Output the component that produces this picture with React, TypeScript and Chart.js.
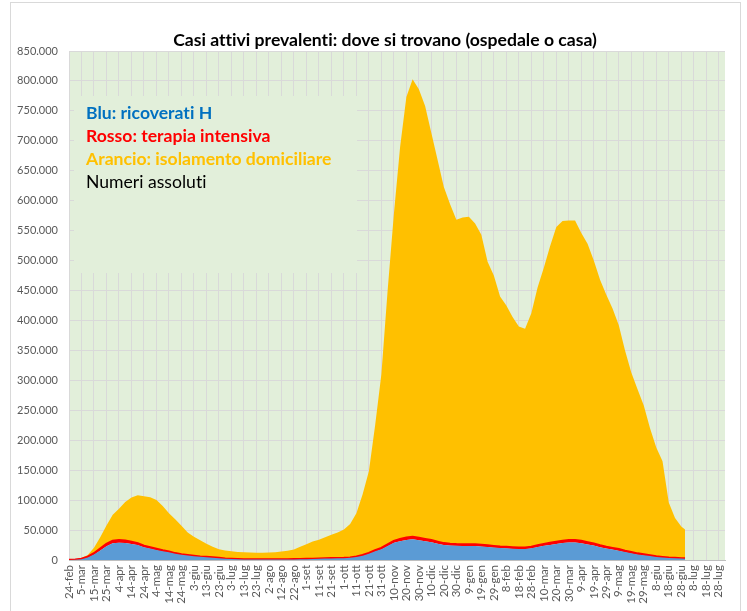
import React, { useEffect, useRef } from "react";
import { Chart, registerables } from "chart.js";

Chart.register(...registerables);

const TITLE = "Casi attivi prevalenti: dove si trovano (ospedale o casa)";

const tickLabels = [
  "24-feb", "5-mar", "15-mar", "25-mar", "4-apr", "14-apr", "24-apr", "4-mag", "14-mag", "24-mag",
  "3-giu", "13-giu", "23-giu", "3-lug", "13-lug", "23-lug", "2-ago", "12-ago", "22-ago", "1-set",
  "11-set", "21-set", "1-ott", "11-ott", "21-ott", "31-ott", "10-nov", "20-nov", "30-nov", "10-dic",
  "20-dic", "30-dic", "9-gen", "19-gen", "29-gen", "8-feb", "18-feb", "28-feb", "10-mar", "20-mar",
  "30-mar", "9-apr", "19-apr", "29-apr", "9-mag", "19-mag", "29-mag", "8-giu", "18-giu", "28-giu",
  "8-lug", "18-lug", "28-lug",
];

const legendLines = [
  { text: "Blu: ricoverati H", color: "#0070C0", bold: true },
  { text: "Rosso: terapia intensiva", color: "#FF0000", bold: true },
  { text: "Arancio: isolamento domiciliare", color: "#FFC000", bold: true },
  { text: "Numeri assoluti", color: "#000000", bold: false },
];

// samples every 5 days from 24-feb-2020; last sample is the final day of data
const SAMPLE_STEP = 5;
const LAST_DAY = 493;

const ricoverati = [
  100, 400, 1350, 4300, 9300, 16000, 23100, 27800, 29000, 28400,
  26900, 24900, 21500, 19200, 16800, 14600, 12900, 10400, 8600, 7400,
  6400, 5300, 4600, 3900, 3000, 2000, 1500, 1100, 850, 750,
  730, 730, 720, 780, 840, 900, 1030, 1200, 1380, 1700,
  2040, 2300, 2530, 2800, 3050, 3600, 5100, 7100, 10500, 14500,
  18000, 23300, 28600, 31500, 33600, 34600, 32900, 31200, 29600, 27300,
  25100, 24200, 23700, 23400, 23400, 23300, 22700, 21700, 20800, 20000,
  19600, 18900, 18300, 18500, 19600, 21800, 23700, 25200, 26900, 28300,
  29200, 29300, 28100, 26000, 24100, 21400, 19300, 17400, 15600, 13200,
  11300, 9300, 7900, 6500, 5100, 4100, 3300, 2800, 2300, 2200,
];

const terapiaIntensiva = [
  30, 100, 350, 880, 1670, 2660, 3490, 3980, 4070, 3600,
  3260, 2640, 2100, 1800, 1480, 1170, 860, 720, 550, 480,
  340, 280, 240, 180, 150, 110, 80, 70, 65, 50,
  45, 40, 42, 50, 56, 60, 70, 80, 94, 140,
  175, 200, 233, 260, 300, 360, 510, 750, 1050, 1410,
  1840, 2400, 2970, 3400, 3750, 3850, 3740, 3500, 3320, 3000,
  2690, 2580, 2550, 2570, 2580, 2550, 2460, 2370, 2250, 2150,
  2110, 2090, 2070, 2160, 2290, 2500, 2760, 3070, 3360, 3600,
  3720, 3740, 3590, 3400, 3150, 2900, 2640, 2450, 2250, 1950,
  1640, 1380, 1140, 950, 780, 620, 490, 430, 380, 370,
];

const isolamento = [
  90, 550, 1600, 3320, 9630, 19240, 30910, 43720, 52330, 64900,
  74140, 80760, 82900, 83700, 81720, 74230, 64240, 56880, 47850, 38120,
  32260, 27420, 22160, 17920, 14850, 13890, 12920, 12330, 11990, 11600,
  11530, 11530, 11840, 12170, 13100, 14540, 16400, 20720, 25030, 29160,
  31790, 35500, 39240, 42940, 47650, 56040, 72390, 102150, 136450, 209090,
  290160, 424300, 546430, 655100, 735650, 764550, 749360, 723300, 680080, 637700,
  595210, 567220, 541750, 546030, 547020, 536150, 517840, 473930, 451950, 417850,
  403290, 385010, 369630, 365340, 390110, 430700, 461540, 495730, 525740, 534100,
  534080, 533960, 514310, 498600, 472750, 443700, 421060, 400150, 374150, 334850,
  300060, 274320, 248960, 212550, 182120, 160280, 92210, 66770, 53320, 48430,
];

const dayOf = (i: number, n: number) => (i < n - 1 ? i * SAMPLE_STEP : LAST_DAY);
const toPoints = (arr: number[]) => arr.map((v, i) => ({ x: dayOf(i, arr.length), y: v }));

const fmt = (v: number) => String(Math.round(v)).replace(/\B(?=(\d{3})+(?!\d))/g, ".");

const decorPlugin = {
  id: "decor",
  beforeDraw(chart: any) {
    const { ctx, chartArea } = chart;
    ctx.save();
    ctx.fillStyle = "#FFFFFF";
    ctx.fillRect(0, 0, chart.width, chart.height);
    ctx.strokeStyle = "#D9D9D9";
    ctx.lineWidth = 1;
    ctx.strokeRect(10.5, 2.5, 730, 640);
    ctx.fillStyle = "#E2EFDA";
    ctx.fillRect(chartArea.left, chartArea.top, chartArea.right - chartArea.left, chartArea.bottom - chartArea.top);
    ctx.fillStyle = "#000000";
    ctx.textRendering = "optimizeSpeed";
    ctx.font = "bold 17.6px Lato";
    ctx.textAlign = "center";
    ctx.textBaseline = "middle";
    ctx.fillText(TITLE, 385, 40);
    ctx.restore();
  },
  beforeDatasetsDraw(chart: any) {
    const { ctx } = chart;
    ctx.save();
    ctx.fillStyle = "#E2EFDA";
    ctx.fillRect(74, 96, 283, 177);
    ctx.textRendering = "optimizeSpeed";
    ctx.textAlign = "left";
    ctx.textBaseline = "middle";
    legendLines.forEach((l, i) => {
      ctx.font = (l.bold ? "bold " : "") + "17.6px Lato";
      ctx.fillStyle = l.color;
      ctx.fillText(l.text, 86, 113 + i * 23);
    });
    ctx.restore();
  },
};

export default function App() {
  const ref = useRef<HTMLCanvasElement | null>(null);

  useEffect(() => {
    document.body.style.margin = "0";
    if (!ref.current) return;
    const chart = new Chart(ref.current, {
      type: "line",
      data: {
        datasets: [
          {
            label: "Ricoverati H",
            data: toPoints(ricoverati),
            backgroundColor: "#5B9BD5",
            borderColor: "#5B9BD5",
            borderWidth: 0,
            fill: "origin",
            pointRadius: 0,
            tension: 0,
          },
          {
            label: "Terapia intensiva",
            data: toPoints(terapiaIntensiva),
            backgroundColor: "#FF0000",
            borderColor: "#FF0000",
            borderWidth: 2.5,
            fill: "-1",
            pointRadius: 0,
            tension: 0,
          },
          {
            label: "Isolamento domiciliare",
            data: toPoints(isolamento),
            backgroundColor: "#FFC000",
            borderColor: "#FFC000",
            borderWidth: 0,
            fill: "-1",
            pointRadius: 0,
            tension: 0,
          },
        ],
      },
      options: {
        animation: false,
        responsive: false,
        layout: { padding: { left: 0, right: 22, top: 51, bottom: 0 } },
        plugins: {
          legend: { display: false },
          title: { display: false },
          tooltip: { enabled: false },
        },
        scales: {
          x: {
            type: "linear",
            min: 0,
            max: 525,
            afterFit: (s: any) => {
              s.height = 51;
            },
            grid: { color: "#D9D9D9", drawTicks: false, lineWidth: 1 },
            border: { display: true, color: "#BFBFBF" },
            ticks: {
              stepSize: 10,
              autoSkip: false,
              includeBounds: false,
              maxRotation: 90,
              minRotation: 90,
              padding: 5,
              color: "#595959",
              font: { family: "Lato", size: 11.5 },
              callback: (v: any) => {
                const n = Number(v);
                return n % 10 === 0 ? tickLabels[n / 10] ?? "" : "";
              },
            },
          },
          y: {
            stacked: true,
            min: 0,
            max: 850000,
            afterFit: (s: any) => {
              s.width = 69;
            },
            grid: { color: "#D9D9D9", drawTicks: false, lineWidth: 1 },
            border: { display: false },
            ticks: {
              stepSize: 50000,
              padding: 11,
              color: "#595959",
              font: { family: "Lato", size: 11 },
              callback: (v: any) => fmt(Number(v)),
            },
          },
        },
      },
      plugins: [decorPlugin],
    });
    return () => chart.destroy();
  }, []);

  return (
    <div style={{ width: 747, height: 611 }}>
      <canvas ref={ref} width={747} height={611} style={{ width: 747, height: 611, display: "block" }} />
    </div>
  );
}
